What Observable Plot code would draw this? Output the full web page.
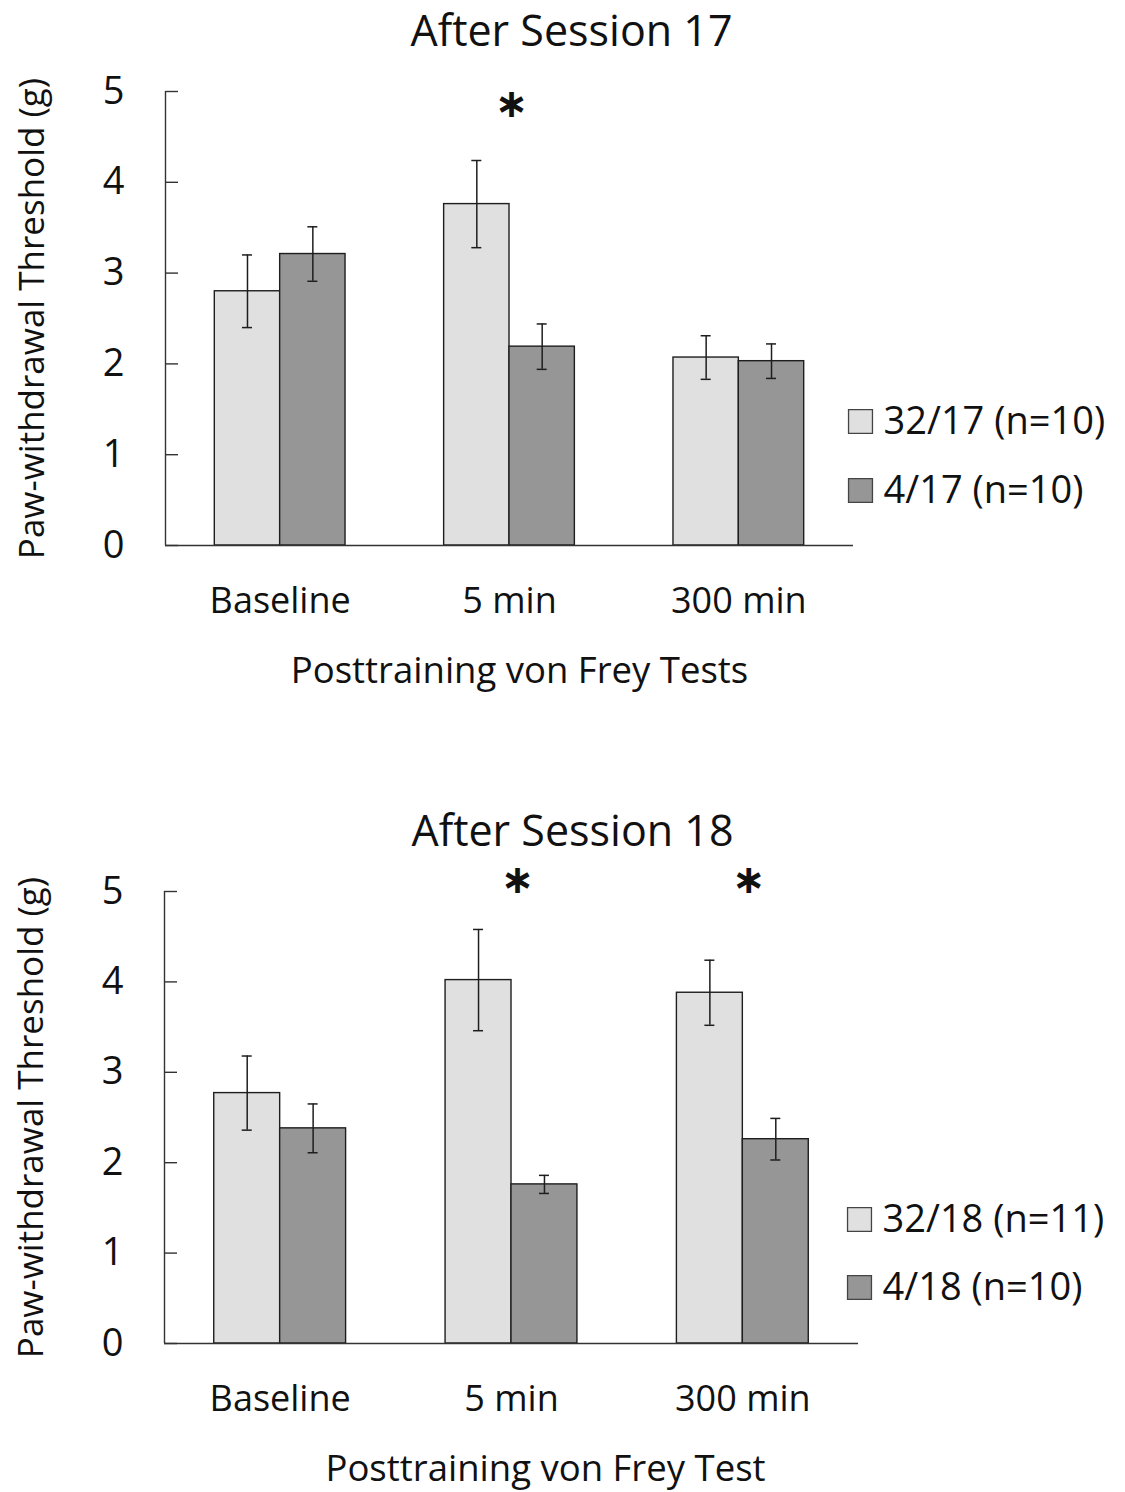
<!DOCTYPE html>
<html><head><meta charset="utf-8">
<script src="https://cdn.jsdelivr.net/npm/d3@7"></script>
<script src="https://cdn.jsdelivr.net/npm/@observablehq/plot@0.6"></script>
<style>
body{margin:0;background:#fff;}
#wrap{position:relative;width:1125px;height:1492px;overflow:hidden;background:#fff;}
#p1{position:absolute;left:0;top:0;}
#p2{position:absolute;left:0;top:800px;}
</style></head><body><div id="wrap"><div id="p1"></div><div id="p2"></div></div>
<script>
// ---- data ----
const categories = ["Baseline", "5 min", "300 min"];
const yTicks = [0, 1, 2, 3, 4, 5];
const yTitle = "Paw-withdrawal Threshold (g)";

// Session 17
const title17 = "After Session 17";
const xTitle17 = "Posttraining von Frey Tests";
const groups17 = ["32/17 (n=10)", "4/17 (n=10)"];
const mean17_32 = [2.80, 3.76, 2.07];
const sem17_32 = [0.40, 0.48, 0.24];
const mean17_4 = [3.21, 2.19, 2.03];
const sem17_4 = [0.30, 0.25, 0.19];
const sig17 = [false, true, false];

// Session 18
const title18 = "After Session 18";
const xTitle18 = "Posttraining von Frey Test";
const groups18 = ["32/18 (n=11)", "4/18 (n=10)"];
const mean18_32 = [2.77, 4.02, 3.88];
const sem18_32 = [0.41, 0.56, 0.36];
const mean18_4 = [2.38, 1.76, 2.26];
const sem18_4 = [0.27, 0.10, 0.23];
const sig18 = [false, true, true];

// ---- styling ----
const FONT = "'Open Sans', sans-serif";
const FILLS = ["#e0e0e0", "#969696"];
const INK = "#1e1e1e";
const BAR_W = 0.285; // bar width as fraction of a category band

function panel(cfg) {
  const rows = [];
  categories.forEach((c, i) => {
    [cfg.meansA, cfg.meansB].forEach((m, g) => {
      const sem = g === 0 ? cfg.semA[i] : cfg.semB[i];
      const xc = i + 0.5;
      const x1 = g === 0 ? xc - BAR_W : xc;
      const x2 = g === 0 ? xc : xc + BAR_W;
      rows.push({cat: c, i, group: cfg.groups[g], mean: m[i], sem, x1, x2, mid: (x1 + x2) / 2});
    });
  });
  const stars = categories.map((c, i) => ({i, on: cfg.sig[i]})).filter(d => d.on);

  const marks = [
    Plot.rectY(rows, {x1: "x1", x2: "x2", y1: 0, y2: "mean", fill: "group", stroke: INK, strokeWidth: 1.4}),
    Plot.ruleX(rows, {x: "mid", y1: d => d.mean - d.sem, y2: d => d.mean + d.sem, stroke: INK, strokeWidth: 1.5}),
    Plot.ruleY(rows, {y: d => d.mean + d.sem, x1: "mid", x2: "mid", insetLeft: -5, insetRight: -5, stroke: INK, strokeWidth: 1.5}),
    Plot.ruleY(rows, {y: d => d.mean - d.sem, x1: "mid", x2: "mid", insetLeft: -5, insetRight: -5, stroke: INK, strokeWidth: 1.5}),
    Plot.ruleY([0], {stroke: "#333", strokeWidth: 1.4}),
    Plot.ruleX([0], {stroke: "#333", strokeWidth: 1.4}),
    Plot.ruleY(yTicks, {y: d => d, x1: 0, x2: 0, insetRight: -13, stroke: "#333", strokeWidth: 1.4}),
    Plot.axisY({ticks: yTicks, tickSize: 0, tickPadding: 41, fontSize: 38, label: null, tickFormat: d3.format("d"), fill: "#111"}),
    Plot.axisX({ticks: categories.map((c, i) => i + 0.5), tickFormat: d => categories[Math.floor(d)], tickSize: 0, tickPadding: 42, fontSize: 36, label: null, fill: "#111"}),
    Plot.text(stars, {x: d => d.i + 0.5, frameAnchor: "top", lineAnchor: "middle", dx: cfg.starDx, dy: cfg.starDy, text: () => "\u2217", fontSize: 40, fontFamily: "DejaVu Sans", fontWeight: "bold", fill: "#111"}),
    Plot.text([cfg.title], {frameAnchor: "top", lineAnchor: "middle", dx: cfg.titleDx, dy: -59, fontSize: 43, fill: "#111"}),
    Plot.text([yTitle], {frameAnchor: "left", textAnchor: "middle", lineAnchor: "middle", dx: -133, rotate: -90, fontSize: 35, fill: "#111"}),
    Plot.text([cfg.xTitle], {frameAnchor: "bottom", lineAnchor: "middle", dx: cfg.xTitleDx, dy: 126, fontSize: 36.5, fill: "#111"})
  ];
  cfg.groups.forEach((g, k) => {
    marks.push(Plot.dot([g], {frameAnchor: "right", dx: cfg.legDx, dy: cfg.legDy[k], symbol: "square", r: 13.5, fill: d => d, stroke: "#444", strokeWidth: 1.3}));
    marks.push(Plot.text([g], {frameAnchor: "right", lineAnchor: "middle", dx: cfg.legDx + 23, dy: cfg.legDy[k], textAnchor: "start", fontSize: 38, fill: "#111"}));
  });

  return Plot.plot({
    width: 1125,
    height: cfg.height,
    marginTop: cfg.mt, marginBottom: cfg.mb, marginLeft: cfg.ml, marginRight: cfg.mr,
    style: {fontFamily: FONT, background: "#fff", overflow: "visible"},
    x: {domain: [0, categories.length]},
    y: {domain: [0, 5]},
    color: {domain: cfg.groups, range: FILLS},
    marks
  });
}

document.getElementById("p1").append(panel({
  groups: groups17, meansA: mean17_32, semA: sem17_32, meansB: mean17_4, semB: sem17_4, sig: sig17,
  title: title17, xTitle: xTitle17,
  height: 700, mt: 91, mb: 155, ml: 165, mr: 272,
  starDx: 2, starDy: 13, titleDx: 62, xTitleDx: 10, legDx: 7, legDy: [103, 172]
}));
document.getElementById("p2").append(panel({
  groups: groups18, meansA: mean18_32, semA: sem18_32, meansB: mean18_4, semB: sem18_4, sig: sig18,
  title: title18, xTitle: xTitle18,
  height: 692, mt: 91, mb: 149, ml: 164, mr: 267,
  starDx: 6, starDy: -11, titleDx: 61, xTitleDx: 34, legDx: 1, legDy: [102, 170]
}));
</script>
</body></html>
